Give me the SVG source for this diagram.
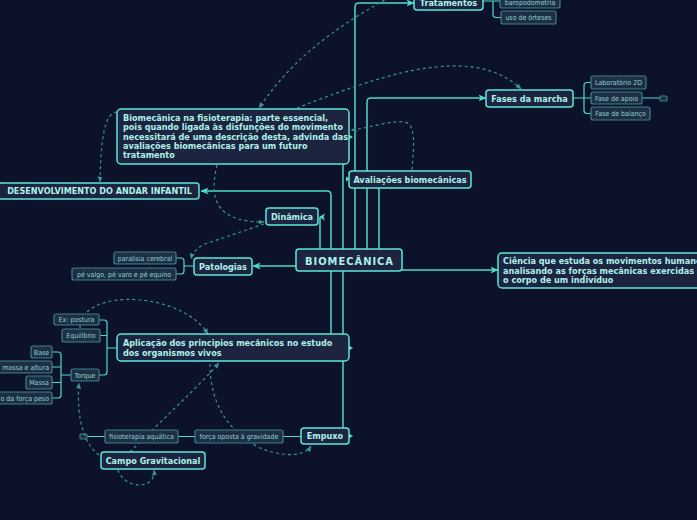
<svg xmlns="http://www.w3.org/2000/svg" width="697" height="520" viewBox="0 0 697 520">
<style>
.bg{fill:#0b1229}
.mn{fill:#1d2440;stroke:#5de6d6;stroke-width:1.5}
.sb{fill:#1e2f45;stroke:#3f8088;stroke-width:1.2}
.mt{font-family:"DejaVu Sans Condensed","DejaVu Sans",sans-serif;font-stretch:condensed;font-weight:bold;font-size:9px;fill:#aef2ea}
.st{font-family:"DejaVu Sans Condensed","DejaVu Sans",sans-serif;font-stretch:condensed;font-size:7px;fill:#8fd3cf}
.c{fill:none;stroke:#4fd9c9;stroke-width:1.5}
.cs{fill:none;stroke:#4fd9c9;stroke-width:1.2}
.d{fill:none;stroke:#3b9396;stroke-width:1.2;stroke-dasharray:3 3}
.tip{fill:#4fd9c9}
</style>
<defs>
<marker id="ah" viewBox="0 0 8 8" refX="7.5" refY="4" markerWidth="8" markerHeight="8" markerUnits="userSpaceOnUse" orient="auto"><path d="M0,0.5 L8,4 L0,7.5 L2,4 z" fill="#4fd9c9"/></marker>
<marker id="dh" viewBox="0 0 6 6" refX="5.5" refY="3" markerWidth="6" markerHeight="6" markerUnits="userSpaceOnUse" orient="auto"><path d="M0,0.5 L6,3 L0,5.5 z" fill="#3b9396"/></marker>
</defs>
<rect class="bg" x="0" y="0" width="697" height="520"/>

<g id="connectors">
<path class="c" d="M320,249 V217"/>
<polygon class="tip" points="319,217 325,213.5 323.5,217 325,220.5"/>
<path class="c" d="M331,249 V195 Q331,191 327,191 H201" marker-end="url(#ah)"/>
<path class="c" d="M343,249 V164"/>
<path class="c" d="M355,249 V7 Q355,3 359,3 H414" marker-end="url(#ah)"/>
<path class="c" d="M367,249 V102 Q367,98 371,98 H486" marker-end="url(#ah)"/>
<path class="c" d="M379,249 V188"/>
<path class="c" d="M296,266 H253" marker-end="url(#ah)"/>
<path class="c" d="M402,270 H498" marker-end="url(#ah)"/>
<path class="c" d="M331,271 V334"/>
<path class="c" d="M343,271 V428"/>
<polygon class="tip" points="346,176.5 350,179 346,181.5"/>
<polygon class="tip" points="349,134.5 353,137 349,139.5"/>
<polygon class="tip" points="349,345.5 353,348 349,350.5"/>
<polygon class="tip" points="349,433.5 353,436 349,438.5"/>

<path class="cs" d="M483,1 H500 M493,1 V14.5 Q493,17.5 496,17.5 H501"/>
<path class="cs" d="M573,98 H591 M584,98 V85.5 Q584,82.5 587,82.5 H591 M584,98 V110.5 Q584,113.5 587,113.5 H591 M642,98 H660"/>
<rect x="660" y="96" width="7" height="5" rx="1" class="sb"/>
<path class="cs" d="M194,266 H184 V261 Q184,258 181,258 H176 M184,266 V271 Q184,274 181,274 H176"/>
<path class="cs" d="M117,348 H107 V323 Q107,320 104,320 H99 M107,335.5 H100 M107,348 V372 Q107,375 104,375 H99"/>
<path class="cs" d="M71,375 H61 V355 Q61,352 58,352 H52 M61,367 H52 M61,382.5 H52 M61,375 V395 Q61,398 58,398 H52"/>
<path class="cs" d="M301,436.5 H283 M195,436.5 H178 M105,436.5 H87"/>
<rect x="80" y="434" width="7" height="5" rx="1" class="sb"/>

<path class="d" d="M117,112 C104,113 101,140 100,182" marker-end="url(#dh)"/>
<path class="d" d="M390,-3 C330,30 290,62 259,108" marker-end="url(#dh)"/>
<path class="d" d="M297,108 C370,80 470,40 521,89" marker-end="url(#dh)"/>
<path class="d" d="M412,170 C414,145 416,125 405,122 C390,120 370,128 351,130" marker-end="url(#dh)"/>
<path class="d" d="M217,165 C210,195 212,222 264,222" marker-end="url(#dh)"/>
<path class="d" d="M264,224 L205,244 Q193,250 191,259" marker-end="url(#dh)"/>
<path class="d" d="M80,328 C80,288 180,290 208,334" marker-end="url(#dh)"/>
<path class="d" d="M99,455 C85,445 76,420 79,383" marker-end="url(#dh)"/>
<path class="d" d="M118,470 C125,490 156,490 154,470" marker-end="url(#dh)"/>
<path class="d" d="M130,452 C160,422 200,385 219,363" marker-end="url(#dh)"/>
<path class="d" d="M210,364 C210,400 225,430 260,448 C285,458 305,456 311,446" marker-end="url(#dh)"/>
</g>

<g id="n-tratamentos"><rect class="mn" x="414" y="-7" width="69" height="17" rx="3"/><text class="mt" x="448.5" y="5.5" text-anchor="middle">Tratamentos</text></g>
<g id="n-baropodometria"><rect class="sb" x="500" y="-5" width="60" height="13" rx="2"/><text class="st" x="530" y="4.5" text-anchor="middle">baropodometria</text></g>
<g id="n-orteses"><rect class="sb" x="501" y="11" width="55" height="13" rx="2"/><text class="st" x="528.5" y="20" text-anchor="middle">uso de órteses</text></g>
<g id="n-fases"><rect class="mn" x="486" y="90" width="87" height="17" rx="3"/><text class="mt" x="529.5" y="101.5" text-anchor="middle">Fases da marcha</text></g>
<g id="n-lab"><rect class="sb" x="591" y="76" width="55" height="13" rx="2"/><text class="st" x="618.5" y="85" text-anchor="middle">Laboratório 2D</text></g>
<g id="n-apoio"><rect class="sb" x="591" y="92" width="51" height="12" rx="2"/><text class="st" x="616.5" y="100.5" text-anchor="middle">Fase de apoio</text></g>
<g id="n-balanco"><rect class="sb" x="591" y="107" width="59" height="13" rx="2"/><text class="st" x="620.5" y="116" text-anchor="middle">Fase de balanço</text></g>
<g id="n-fisio"><rect class="mn" x="117" y="109" width="232" height="55" rx="4"/>
<text class="mt" x="123" y="120.7">Biomecânica na fisioterapia: parte essencial,</text>
<text class="mt" x="123" y="130.1">pois quando ligada às disfunções do movimento</text>
<text class="mt" x="123" y="139.5">necessitará de uma descrição desta, advinda das</text>
<text class="mt" x="123" y="148.9">avaliações biomecânicas para um futuro</text>
<text class="mt" x="123" y="158.3">tratamento</text></g>
<g id="n-avaliacoes"><rect class="mn" x="349" y="171" width="122" height="17" rx="3"/><text class="mt" x="410" y="182.5" text-anchor="middle">Avaliações biomecânicas</text></g>
<g id="n-desenvolvimento"><rect class="mn" x="-2" y="183" width="201" height="16" rx="3"/><text class="mt" x="99.5" y="194.3" text-anchor="middle">DESENVOLVIMENTO DO ANDAR INFANTIL</text></g>
<g id="n-dinamica"><rect class="mn" x="266" y="208" width="52" height="17" rx="3"/><text class="mt" x="292" y="219.5" text-anchor="middle">Dinâmica</text></g>
<g id="n-biomecanica"><rect class="mn" x="296" y="249" width="106" height="22" rx="3"/><text class="mt" style="font-size:11px;letter-spacing:1px" x="349.5" y="264.5" text-anchor="middle">BIOMECÂNICA</text></g>
<g id="n-patologias"><rect class="mn" x="194" y="258" width="58" height="17" rx="3"/><text class="mt" x="223" y="269.5" text-anchor="middle">Patologias</text></g>
<g id="n-paralisia"><rect class="sb" x="114" y="252" width="62" height="12" rx="2"/><text class="st" x="145" y="260.5" text-anchor="middle">paralisia cerebral</text></g>
<g id="n-pe"><rect class="sb" x="72" y="268" width="104" height="12" rx="2"/><text class="st" x="124" y="276.5" text-anchor="middle">pé valgo, pé varo e pé equino</text></g>
<g id="n-ciencia"><rect class="mn" x="498" y="253" width="222" height="35" rx="4"/>
<text class="mt" x="503" y="264.3">Ciência que estuda os movimentos humanos</text>
<text class="mt" x="503" y="273.8">analisando as forças mecânicas exercidas sobre</text>
<text class="mt" x="503" y="283.3">o corpo de um indivíduo</text></g>
<g id="n-aplicacao"><rect class="mn" x="117" y="334" width="232" height="27" rx="4"/>
<text class="mt" x="123" y="346">Aplicação dos principios mecânicos no estudo</text>
<text class="mt" x="123" y="355.5">dos organismos vivos</text></g>
<g id="n-postura"><rect class="sb" x="54" y="314" width="45" height="11" rx="2"/><text class="st" x="76.5" y="322" text-anchor="middle">Ex: postura</text></g>
<g id="n-equilibrio"><rect class="sb" x="62" y="329" width="38" height="13" rx="2"/><text class="st" x="81" y="338" text-anchor="middle">Equilíbrio</text></g>
<g id="n-torque"><rect class="sb" x="71" y="369" width="28" height="12" rx="2"/><text class="st" x="85" y="377.5" text-anchor="middle">Torque</text></g>
<g id="n-base"><rect class="sb" x="31" y="346" width="21" height="12" rx="2"/><text class="st" x="41.5" y="354.5" text-anchor="middle">Base</text></g>
<g id="n-massaaltura"><rect class="sb" x="-10" y="361" width="62" height="12" rx="2"/><text class="st" x="49" y="369.5" text-anchor="end">massa e altura</text></g>
<g id="n-massa"><rect class="sb" x="26" y="376" width="26" height="13" rx="2"/><text class="st" x="39" y="385" text-anchor="middle">Massa</text></g>
<g id="n-forcapeso"><rect class="sb" x="-10" y="392" width="62" height="12" rx="2"/><text class="st" x="49" y="400.5" text-anchor="end">o da força peso</text></g>
<g id="n-aquatica"><rect class="sb" x="105" y="430" width="73" height="13" rx="2"/><text class="st" x="141.5" y="439" text-anchor="middle">fisioterapia aquática</text></g>
<g id="n-forcaoposta"><rect class="sb" x="195" y="430" width="88" height="13" rx="2"/><text class="st" x="239" y="439" text-anchor="middle">força oposta à gravidade</text></g>
<g id="n-empuxo"><rect class="mn" x="301" y="428" width="48" height="16" rx="3"/><text class="mt" x="325" y="439.3" text-anchor="middle">Empuxo</text></g>
<g id="n-campo"><rect class="mn" x="101" y="452" width="104" height="17" rx="3"/><text class="mt" x="153" y="463.5" text-anchor="middle">Campo Gravitacional</text></g>
</svg>
